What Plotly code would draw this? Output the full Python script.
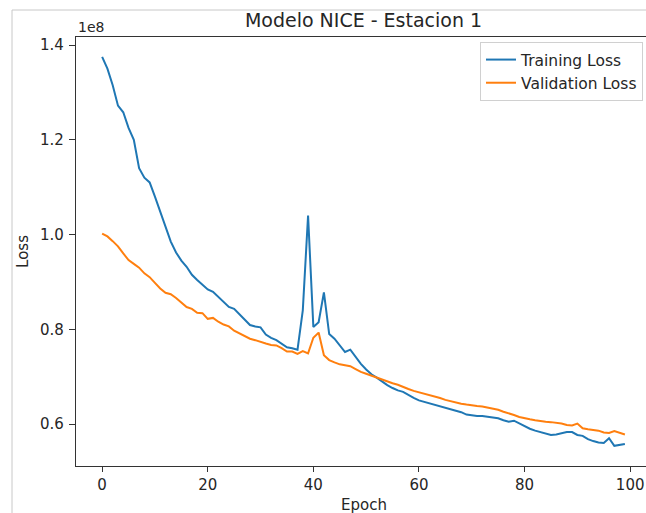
import plotly.graph_objects as go

# Data (loss values in units of 1e8)
epochs = list(range(100))
training_loss = [
    1.375, 1.350, 1.315, 1.272, 1.258, 1.225, 1.200, 1.140, 1.120, 1.110,
    1.080, 1.048, 1.015, 0.985, 0.962, 0.945, 0.932, 0.915, 0.904, 0.895,
    0.884, 0.879, 0.868, 0.858, 0.847, 0.843, 0.832, 0.820, 0.809, 0.806,
    0.804, 0.789, 0.782, 0.777, 0.769, 0.762, 0.760, 0.757, 0.840, 1.040,
    0.805, 0.815, 0.878, 0.790, 0.780, 0.767, 0.752, 0.757, 0.742, 0.727,
    0.715, 0.705, 0.698, 0.690, 0.682, 0.676, 0.671, 0.668, 0.661, 0.655,
    0.650, 0.647, 0.644, 0.641, 0.638, 0.635, 0.632, 0.629, 0.625, 0.620,
    0.618, 0.617, 0.617, 0.615, 0.613, 0.612, 0.608, 0.605, 0.607, 0.601,
    0.596, 0.590, 0.586, 0.583, 0.579, 0.577, 0.578, 0.580, 0.583, 0.583,
    0.577, 0.575, 0.568, 0.564, 0.561, 0.560, 0.570, 0.554, 0.556, 0.558,
]
validation_loss = [
    1.002, 0.996, 0.986, 0.975, 0.960, 0.946, 0.938, 0.930, 0.918, 0.910,
    0.898, 0.886, 0.877, 0.874, 0.866, 0.857, 0.847, 0.843, 0.835, 0.834,
    0.822, 0.824, 0.816, 0.810, 0.806, 0.797, 0.791, 0.786, 0.780, 0.777,
    0.773, 0.770, 0.767, 0.766, 0.760, 0.753, 0.753, 0.748, 0.754, 0.749,
    0.782, 0.793, 0.745, 0.735, 0.730, 0.726, 0.724, 0.722, 0.716, 0.710,
    0.706, 0.702, 0.697, 0.693, 0.689, 0.686, 0.683, 0.678, 0.674, 0.670,
    0.667, 0.665, 0.661, 0.658, 0.655, 0.651, 0.648, 0.645, 0.643, 0.641,
    0.639, 0.638, 0.637, 0.635, 0.633, 0.630, 0.626, 0.623, 0.619, 0.615,
    0.612, 0.610, 0.608, 0.606, 0.605, 0.604, 0.603, 0.601, 0.598, 0.597,
    0.601, 0.591, 0.589, 0.588, 0.586, 0.582, 0.581, 0.585, 0.581, 0.578,
]
series_names = ["Training Loss", "Validation Loss"]
x_ticks = [0, 20, 40, 60, 80, 100]
y_ticks = [0.6, 0.8, 1.0, 1.2, 1.4]

FONT = "DejaVu Sans"
TXT = "#262626"
W, H = 646, 513
L, T, B = 76, 37, 47
PW, PH = W - L, H - T - B

def px_to_paper_x(px):
    return (px - L) / PW

def px_to_paper_y(py):
    return (H - B - py) / PH

fig = go.Figure()
fig.add_trace(go.Scatter(x=epochs, y=training_loss, mode="lines", name=series_names[0],
                         legendgroup="a", line=dict(color="#1f77b4", width=2)))
fig.add_trace(go.Scatter(x=epochs, y=validation_loss, mode="lines", name=series_names[1],
                         legendgroup="b", line=dict(color="#ff7f0e", width=2)))

fig.update_layout(
    width=W, height=H,
    margin=dict(l=L, r=0, t=T, b=B, pad=0, autoexpand=False),
    paper_bgcolor="white", plot_bgcolor="white",
    font=dict(family=FONT, size=15, color=TXT),
    title=dict(text="Modelo NICE - Estacion 1", font=dict(family=FONT, size=19, color=TXT),
               x=363.5 / W, xanchor="center", xref="container",
               y=1 - 20.8 / H, yanchor="middle", yref="container"),
    showlegend=True,
    legend=dict(x=px_to_paper_x(643), xanchor="right", y=px_to_paper_y(42), yanchor="top",
                bgcolor="rgba(255,255,255,0.8)", bordercolor="#d0d0d0", borderwidth=1,
                font=dict(family=FONT, size=15.5, color=TXT), tracegroupgap=0),
    xaxis=dict(range=[-4.95, 103.0], tickvals=x_ticks, ticktext=[str(v) for v in x_ticks],
               showgrid=False, zeroline=False, showline=True, linecolor="#333333", linewidth=1.3,
               mirror=True, ticks="outside", ticklen=5, tickwidth=1.2, tickcolor="#333333",
               tickfont=dict(family=FONT, size=15, color=TXT), automargin=False),
    yaxis=dict(range=[0.5114, 1.4169], tickvals=y_ticks, ticktext=["%.1f" % v for v in y_ticks],
               showgrid=False, zeroline=False, showline=True, linecolor="#333333", linewidth=1.3,
               ticks="outside", ticklen=6, tickwidth=1.2, tickcolor="#333333",
               tickfont=dict(family=FONT, size=15, color=TXT), automargin=False,
               ticklabelstandoff=2,
               title=dict(text="Loss", font=dict(family=FONT, size=15, color=TXT), standoff=7)),
)

# x axis label
fig.add_annotation(text="Epoch", x=px_to_paper_x(363.5), xref="paper", xanchor="center",
                   y=px_to_paper_y(494), yref="paper", yanchor="top",
                   showarrow=False, font=dict(family=FONT, size=15, color=TXT))

# offset text "1e8"
fig.add_annotation(text="1e8", x=0, xref="paper", xanchor="left",
                   y=px_to_paper_y(26.5), yref="paper", yanchor="middle",
                   showarrow=False, font=dict(family=FONT, size=14, color=TXT))

# light grey screenshot frame (left and top edges)
fig.add_shape(type="line", xref="paper", yref="paper",
              x0=px_to_paper_x(12), x1=px_to_paper_x(12), y0=px_to_paper_y(H), y1=px_to_paper_y(10),
              line=dict(color="#c8c8c8", width=1))
fig.add_shape(type="line", xref="paper", yref="paper",
              x0=px_to_paper_x(12), x1=px_to_paper_x(W), y0=px_to_paper_y(10), y1=px_to_paper_y(10),
              line=dict(color="#c8c8c8", width=1))

fig.write_html("out.html", config={"displayModeBar": False},
               post_script="document.body.style.margin='0';document.body.style.overflow='hidden';")
